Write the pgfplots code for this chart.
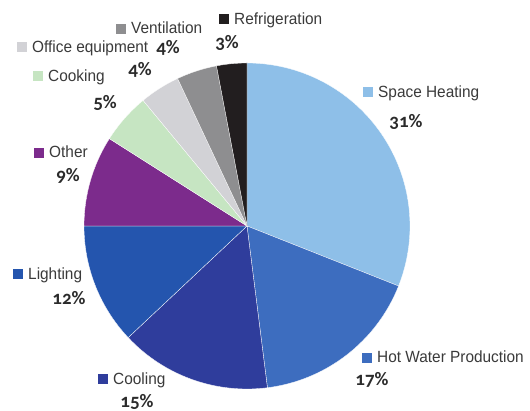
\documentclass[border=0pt]{standalone}
\usepackage{pgfplots}
\usepackage{pgfplotstable}
\pgfplotsset{compat=1.18}
\usepackage{fontspec}
\setmainfont{Liberation Sans}
\newfontfamily\labelfamily[FakeStretch=0.95]{Liberation Sans}
\newfontfamily\pctfont[Numbers=OldStyle]{Carlito}

\definecolor{cSH}{HTML}{8EBFE8}
\definecolor{cHW}{HTML}{3D6DBF}
\definecolor{cCO}{HTML}{2F3D9C}
\definecolor{cLI}{HTML}{2455AE}
\definecolor{cOT}{HTML}{7C2B8C}
\definecolor{cCK}{HTML}{C6E5C2}
\definecolor{cOF}{HTML}{D2D2D6}
\definecolor{cVE}{HTML}{8E8E90}
\definecolor{cRE}{HTML}{221E1F}
\definecolor{labelgray}{HTML}{3A3A3A}
\definecolor{pctgray}{HTML}{2B2B2B}

\newcommand\labelfont{\labelfamily\fontsize{16.2}{16}\selectfont}
\newcommand\pctsize{\pctfont\bfseries\fontsize{19}{19}\selectfont}

% shares in percent, clockwise from 12 o'clock; sx/sy = legend square, px/py = percent label
\pgfplotstableread{
name               value color sx  sy  px  py
{Space Heating}    31    cSH   363 318 406 289
{Hot Water Production} 17 cHW  362 54  372 31
{Cooling}          15    cCO   98  31  137 9
{Lighting}         12    cLI   13  136 69  113
{Other}            9     cOT   34  259 68  235
{Cooking}          5     cCK   33  334 105 308
{Office equipment} 4     cOF   17  363 140 341
{Ventilation}      4     cVE   116 383 168 363
{Refrigeration}    3     cRE   219 391 227 368
}\pietable

\begin{document}
\begin{tikzpicture}
\begin{axis}[
  width=530pt, height=411pt, scale only axis,
  xmin=0, xmax=530, ymin=0, ymax=411,
  hide axis, clip=false]
  \path (axis cs:0,0) rectangle (axis cs:530,411);
  \pgfplotstablegetrowsof{\pietable}
  \pgfmathtruncatemacro\nrows{\pgfplotsretval-1}
  \xdef\cum{0}
  \pgfplotsforeachungrouped \i in {0,...,\nrows}{
    \pgfplotstablegetelem{\i}{value}\of\pietable \let\v\pgfplotsretval
    \pgfplotstablegetelem{\i}{color}\of\pietable \let\c\pgfplotsretval
    \pgfplotstablegetelem{\i}{name}\of\pietable \let\n\pgfplotsretval
    \pgfplotstablegetelem{\i}{sx}\of\pietable \let\sx\pgfplotsretval
    \pgfplotstablegetelem{\i}{sy}\of\pietable \let\sy\pgfplotsretval
    \pgfplotstablegetelem{\i}{px}\of\pietable \let\px\pgfplotsretval
    \pgfplotstablegetelem{\i}{py}\of\pietable \let\py\pgfplotsretval
    \pgfmathsetmacro\a{90-3.6*\cum}
    \pgfmathsetmacro\b{90-3.6*(\cum+\v)}
    \pgfmathsetmacro\newcum{\cum+\v}
    \xdef\cum{\newcum}
    \edef\temp{%
      \noexpand\fill[\c, draw=white, line width=0.3pt] (axis cs:247,185) -- ++(\a:163pt)
        arc[start angle=\a, end angle=\b, radius=163pt] -- cycle;
      \noexpand\node[anchor=west, inner sep=0pt, text=labelgray, font=\noexpand\labelfont]
        at (axis cs:\sx,\sy) {\noexpand\textcolor{\c}{\noexpand\rule{10pt}{10pt}}\noexpand\hspace{5pt}\n};
      \noexpand\node[inner sep=0pt, text=pctgray, font=\noexpand\pctsize]
        at (axis cs:\px,\py) {\v\noexpand\%};
    }
    \temp
  }
\end{axis}
\end{tikzpicture}
\end{document}
